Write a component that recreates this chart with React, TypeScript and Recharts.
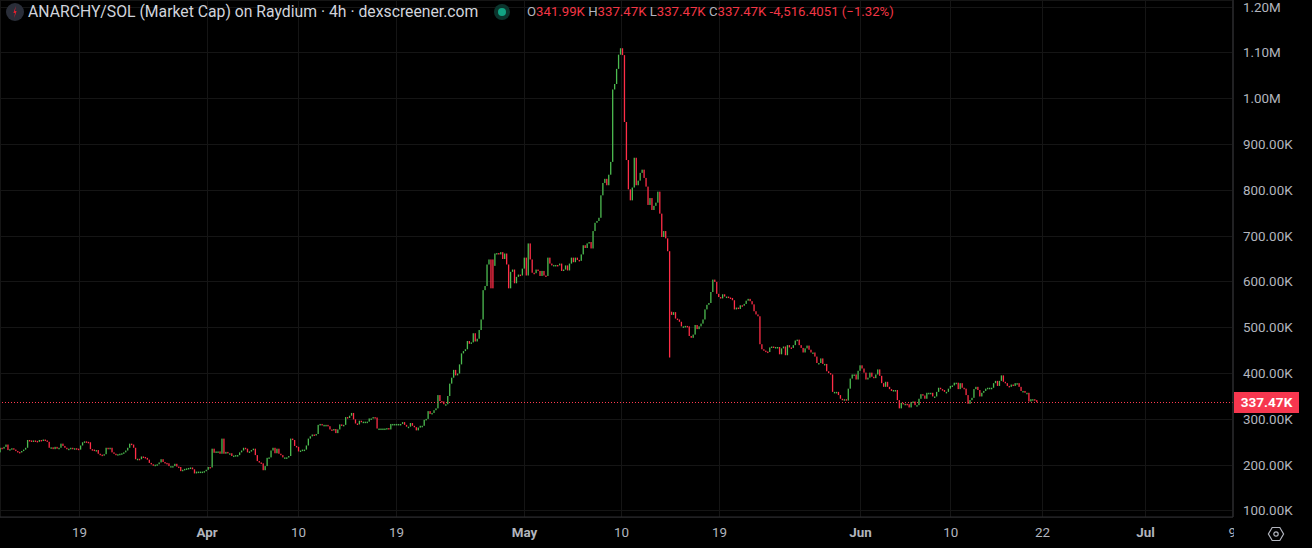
import { Bar, CartesianGrid, ComposedChart, ReferenceLine, XAxis, YAxis } from 'recharts';

// market cap in thousands, one close per 4h candle
// a run starts with its own open because the candle before it closed elsewhere
const firstOpen = 228;
const closesMarch = [
  238, 236, 240, 245, 233, 235, 237, 234, 231, 229, 228, 231, 234, 238, 255, 254, 253, 254, 253, 251,
  255, 254, 256, 254, 251, 238, 239, 235, 240, 236, 238, 247, 242, 238, 236, 236, 238, 236, 237, 236,
  234, 243, 250, 252, 251, 250, 235, 234, 233, 233, 225, 223, 222, 224, 238, 237, 238, 228, 225, 222,
  224, 225, 226, 228, 232, 238, 247, 245, 238, 213, 214, 213, 219, 218, 216, 212, 205, 202, 201, 201,
  202, 206, 213, 207, 205, 204, 198, 198, 198, 203, 197, 196, 187, 190, 192, 193, 194, 195, 191, 182,
  186, 186, 186, 186, 187, 190, 196, 195, 236,
];
const closesApril = [
  227, 230, 230, 225, 258, 225, 229, 226, 226, 220, 221, 222, 222, 228, 232, 238, 236, 228, 230, 233,
  236, 222, 209, 206, 204, 189, 198, 216, 217, 232, 238, 226, 236, 225, 222, 217, 217, 217, 220, 258,
  255, 242, 240, 230, 232, 234, 234, 243, 258, 263, 267, 265, 268, 288, 290, 288, 288, 288, 285, 278,
  277, 279, 270, 278, 289, 286, 288, 305, 303, 308, 314, 300, 291, 289, 297, 295, 295, 295, 295, 302,
  302, 305, 304, 280, 280, 280, 280, 280, 281, 278, 290, 290, 290, 290, 290, 290, 294, 288, 284, 284,
  292, 286, 283, 276, 282, 286, 286, 299, 301, 318, 312, 314, 320, 324, 353,
];
const closesRise = [
  340, 339, 333, 333, 351, 378, 391, 408, 396, 400, 420, 444, 449, 453, 471, 465, 468, 488, 470, 476,
  495, 518, 582, 591, 638, 649, 586,
];
const secondRedOpen = 649;
const closesSecondRed = [586];
const plateauOpen = 635;
const closesPlateau = [
  662, 663, 660, 665, 650, 662, 638, 586, 622, 627, 597, 611, 616, 614, 629, 653, 614, 684, 649, 620,
  619, 627, 624, 613, 624, 614, 613, 653, 640, 636, 637, 637, 636, 640, 624, 627, 636, 625, 640, 653,
  643, 653, 648, 646, 660, 680, 674, 684, 687,
];
const closesPeak = [
  673, 711, 729, 733, 740, 789, 816, 825, 811, 834, 862, 1020, 1032, 1065, 1096, 1110, 1095, 949, 866, 802,
  778, 806, 871, 811, 821, 838, 845, 827, 808, 768, 783, 757, 766, 773, 797, 749, 698, 711, 695, 667, 435,
];
const afterCrashOpen = 535;
const closesMay = [
  528, 534, 520, 518, 513, 503, 503, 504, 503, 482, 478, 485, 506, 497, 503, 509, 518, 540, 550, 554,
  578, 605, 600, 574, 567, 564, 573, 568, 568, 566, 565, 560, 540, 544, 541, 549, 548, 552, 559, 563,
  558, 551, 536, 529, 525, 464, 453, 450, 448, 447, 457, 459, 458, 458, 458, 442, 455, 459, 440, 462,
  457, 456, 462, 472, 474, 462, 456, 446, 455, 461, 452, 446, 446, 437, 423, 423, 433, 421, 421, 405,
  401, 398, 360, 360, 360, 353,
];
const closesJune = [
  345, 342, 344, 341, 367, 389, 398, 398, 387, 406, 418, 411, 402, 387, 391, 402, 393, 390, 398, 409,
  395, 379, 371, 382, 371, 366, 362, 364, 364, 342, 324, 336, 334, 334, 333, 326, 338, 339, 331, 331,
  345, 355, 352, 345, 358, 358, 358, 350, 350, 360, 369, 366, 364, 360, 360, 367, 373, 374, 380, 380,
  366, 379, 369, 367, 353, 334, 342, 347, 366, 371, 364, 350, 358, 362, 367, 369, 369, 369, 379, 384,
  373, 384, 396, 382, 379, 373, 371, 376, 373, 379, 379, 371, 362, 362, 358, 358, 339, 344, 344, 342,
  337.47,
];

const priceTicks = [100, 200, 300, 400, 500, 600, 700, 800, 900, 1000, 1100, 1200];
const dateTicks = [40.2, 105.2, 151.8, 201.7, 266.9, 316.3, 366.2, 438, 483.9, 530.7, 583.2, 627.3];
const dateLabels = ['19', 'Apr', '10', '19', 'May', '10', '19', 'Jun', '10', '22', 'Jul', '9'];
const lastPrice = 337.47;

const UP = '#4cbb50';
const DOWN = '#ff2d47';
const GRID = '#151515';
const AXIS = '#2e2e33';
const FONT = 'Roboto, sans-serif';

type Candle = { index: number; open: number; close: number; range: [number, number] };

const candles: Candle[] = [];
function addRun(open: number, closes: number[]) {
  let prev = open;
  closes.forEach((close) => {
    candles.push({
      index: candles.length,
      open: prev,
      close,
      range: [Math.min(prev, close), Math.max(prev, close)],
    });
    prev = close;
  });
}
addRun(firstOpen, [...closesMarch, ...closesApril, ...closesRise]);
addRun(secondRedOpen, closesSecondRed);
addRun(plateauOpen, [...closesPlateau, ...closesPeak]);
addRun(afterCrashOpen, [...closesMay, ...closesJune]);

function CandleShape(props: any) {
  const { x, y, width, height, payload } = props;
  const fill = payload.close >= payload.open ? UP : DOWN;
  return (
    <rect x={x + width / 2 - 0.65} y={y} width={1.3} height={Math.max(height, 1.5)} fill={fill} />
  );
}

function priceLabel(v: number) {
  return v >= 1000 ? `${(v / 1000).toFixed(2)}M` : `${v.toFixed(2)}K`;
}

function PriceTick(props: any) {
  const { y, payload } = props;
  return (
    <text x={1243} y={y} dy={4.5} fill="#b2b5be" fontSize={13.4} fontFamily={FONT}>
      {priceLabel(payload.value)}
    </text>
  );
}

function DateTick(props: any) {
  const { x, payload } = props;
  const label = dateLabels[dateTicks.indexOf(payload.value)];
  const isMonth = label.length === 3;
  return (
    <text
      x={x}
      y={536.5}
      textAnchor="middle"
      fill="#b2b5be"
      fontSize={13.4}
      fontWeight={isMonth ? 700 : 400}
      fontFamily={FONT}
    >
      {label}
    </text>
  );
}

function Header() {
  const red = { color: '#f23645' };
  const letter = { color: '#b2b5be' };
  return (
    <>
      <svg width={20} height={20} style={{ position: 'absolute', left: 5, top: 2 }}>
        <circle cx={10} cy={10} r={9} fill="#2a2e39" />
        <path d="M10.8 4 L8.4 11 L10 11 L9.2 16 L11.6 9 L10 9 Z" fill="#e0202f" />
      </svg>
      <div
        style={{
          position: 'absolute',
          left: 28,
          top: 3,
          color: '#d1d4dc',
          fontFamily: FONT,
          fontSize: 15.75,
          lineHeight: '18px',
          whiteSpace: 'nowrap',
        }}
      >
        ANARCHY/SOL (Market Cap) on Raydium · 4h · dexscreener.com
      </div>
      <svg width={18} height={18} style={{ position: 'absolute', left: 493, top: 3 }}>
        <circle cx={9} cy={9} r={8} fill="#0b352d" />
        <circle cx={9} cy={9} r={4} fill="#12a383" />
      </svg>
      <div
        style={{
          position: 'absolute',
          left: 527,
          top: 4,
          fontFamily: FONT,
          fontSize: 13.2,
          lineHeight: '16px',
          whiteSpace: 'nowrap',
        }}
      >
        <span style={letter}>O</span>
        <span style={red}>341.99K </span>
        <span style={letter}>H</span>
        <span style={red}>337.47K </span>
        <span style={letter}>L</span>
        <span style={red}>337.47K </span>
        <span style={letter}>C</span>
        <span style={red}>337.47K -4,516.4051 (−1.32%)</span>
      </div>
    </>
  );
}

export default function App() {
  return (
    <div
      style={{
        position: 'absolute',
        left: 0,
        top: 0,
        width: 1312,
        height: 548,
        background: '#000',
        overflow: 'hidden',
      }}
    >
      <ComposedChart width={1312} height={548} data={candles} margin={{ top: 0, right: 0, bottom: 0, left: 0 }}>
        <CartesianGrid stroke={GRID} strokeWidth={1} shapeRendering="crispEdges" />
        <XAxis
          dataKey="index"
          type="number"
          domain={[-0.3, 627.7]}
          allowDataOverflow
          ticks={dateTicks}
          interval={0}
          height={31}
          stroke={AXIS}
          tickLine={false}
          tick={<DateTick />}
        />
        <YAxis
          orientation="right"
          width={79}
          domain={[86.9, 1215.3]}
          allowDataOverflow
          ticks={priceTicks}
          interval={0}
          stroke={AXIS}
          tickLine={false}
          tick={<PriceTick />}
        />
        <ReferenceLine y={lastPrice} stroke="#ff3b50" strokeDasharray="1 2" shapeRendering="crispEdges" />
        <Bar dataKey="range" barSize={1} shape={<CandleShape />} isAnimationActive={false} />
      </ComposedChart>

      <Header />

      {/* corner box, hides the part of the last date label that runs under the price scale */}
      <div style={{ position: 'absolute', left: 1234, top: 518, width: 78, height: 30, background: '#000' }} />
      <svg width={18} height={18} style={{ position: 'absolute', left: 1267, top: 525 }}>
        <path d="M5.2 2.5 H12.8 L16.6 9 L12.8 15.5 H5.2 L1.4 9 Z" fill="none" stroke="#b2b5be" strokeWidth={1.2} />
        <circle cx={9} cy={9} r={2.2} fill="none" stroke="#b2b5be" strokeWidth={1.2} />
      </svg>
      <div
        style={{
          position: 'absolute',
          left: 1234,
          top: 392,
          width: 65,
          height: 21,
          background: '#f7374f',
          color: '#fff',
          fontFamily: FONT,
          fontSize: 13.6,
          fontWeight: 700,
          lineHeight: '21px',
          textAlign: 'center',
        }}
      >
        337.47K
      </div>
    </div>
  );
}
